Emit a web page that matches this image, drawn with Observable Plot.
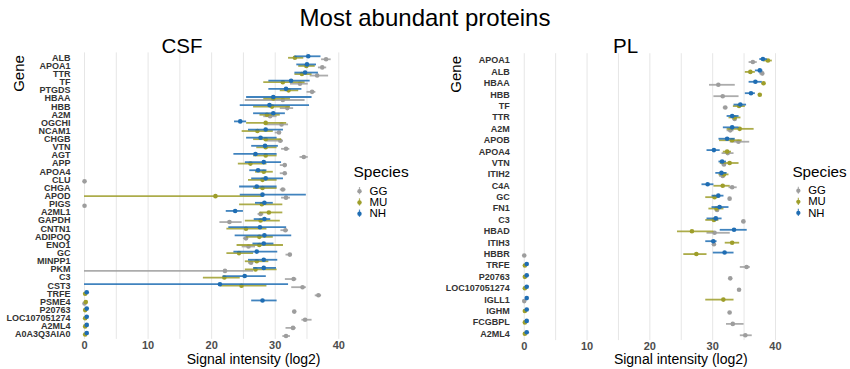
<!DOCTYPE html>
<html>
<head>
<meta charset="utf-8">
<script src="https://cdn.jsdelivr.net/npm/d3@7"></script>
<script src="https://cdn.jsdelivr.net/npm/@observablehq/plot@0.6"></script>
<style>
  body { margin: 0; background: #fff; font-family: "Liberation Sans", Arial, sans-serif; }
  #wrap { position: relative; width: 850px; height: 369px; overflow: hidden; background: #fff; }
  .abs { position: absolute; }
  .ttl { line-height: 1; white-space: nowrap; text-align: center; color: #000; }
</style>
</head>
<body>
<div id="wrap">
  <div id="csf" class="abs" style="left:0;top:0"></div>
  <div id="pl" class="abs" style="left:425px;top:0"></div>
  <div id="legCsf" class="abs" style="left:350px;top:165px"></div>
  <div id="legPl" class="abs" style="left:789px;top:165px"></div>
  <div id="mainTitle" class="abs ttl" style="left:0;width:850px;top:6px;font-size:24px"></div>
  <div id="csfTitle" class="abs ttl" style="left:82px;width:200px;top:35.6px;font-size:20.5px"></div>
  <div id="plTitle" class="abs ttl" style="left:525.5px;width:200px;top:35.9px;font-size:20.5px"></div>
</div>
<script>
// ---------- texts ----------
const mainTitle = "Most abundant proteins";
const panelTitles = ["CSF", "PL"];
const xLabel = "Signal intensity (log2)";
const yLabel = "Gene";
const legendTitle = "Species";

// ---------- scales / ticks ----------
const species = ["GG", "MU", "NH"];
const speciesColors = ["#9d9d9d", "#9e9e2a", "#1f6db3"];
const xTicks = [0, 10, 20, 30, 40];
const xGrid = [0, 5, 10, 15, 20, 25, 30, 35, 40];

// ---------- CSF data: [mean, low, high] ----------
const csfGenes = ["ALB","APOA1","TTR","TF","PTGDS","HBAA","HBB","A2M","OGCHI","NCAM1","CHGB","VTN","AGT","APP","APOA4","CLU","CHGA","APOD","PIGS","A2ML1","GAPDH","CNTN1","ADIPOQ","ENO1","GC","MINPP1","PKM","C3","CST3","TRFE","PSME4","P20763","LOC107051274","A2ML4","A0A3Q3AIA0"];
const csfGG = [
  [38.0,37.3,38.8],[37.4,36.8,38.1],[36.6,35.5,38.4],[33.9,32.4,35.2],[35.8,35.0,36.4],
  [31.2,25.3,34.7],[31.9,30.8,32.9],[29.2,28.2,30.3],[31.0,28.7,32.1],[30.6,30.0,31.0],
  [30.8,28.7,31.3],[31.7,31.0,32.3],[34.5,33.9,35.2],[31.5,30.8,31.9],[31.5,30.8,31.8],
  [0,0,0],[31.2,30.8,31.7],[31.7,31.0,32.4],[0,0,0],[27.7,27.3,28.2],
  [22.8,21.3,24.8],[31.6,30.9,32.1],[25.4,25.0,25.8],[25.8,24.8,26.9],[32.3,31.7,32.7],
  [26.2,25.8,26.6],[22.1,0,26.6],[32.9,31.6,33.4],[34.3,32.6,34.9],[36.8,36.3,37.3],
  [0,0,0],[33.0,32.8,33.2],[34.7,34.2,35.8],[32.8,31.7,33.3],[31.7,31.2,32.4]
];
const csfMU = [
  [33.1,32.1,34.5],[34.9,33.7,36.3],[34.2,33.1,35.8],[31.2,28.2,34.7],[32.1,30.8,33.7],
  [29.7,28.2,32.4],[29.5,26.6,32.4],[28.7,27.6,30.8],[28.5,25.5,31.8],[27.2,24.8,29.7],
  [28.5,26.6,31.0],[28.5,27.1,30.3],[28.5,26.6,30.3],[26.1,24.2,28.7],[28.2,26.9,29.7],
  [28.0,25.8,30.3],[28.0,26.6,30.3],[20.6,0,28.2],[27.9,24.4,31.2],[29.0,27.6,31.2],
  [27.7,25.3,30.8],[25.4,22.4,28.7],[27.5,25.5,29.7],[27.5,24.0,31.3],[24.3,22.4,26.6],
  [27.1,25.3,29.0],[26.9,25.3,30.3],[22.0,18.7,24.5],[24.7,21.4,28.7],[0.1,0.1,0.1],
  [0.2,0.2,0.2],[0.1,0.1,0.1],[0.1,0.1,0.1],[0.1,0.1,0.1],[0.1,0.1,0.1]
];
const csfNH = [
  [35.2,33.1,37.2],[35.0,33.4,36.5],[34.7,33.1,36.8],[32.5,29.0,35.5],[31.7,29.0,34.2],
  [29.7,25.5,35.8],[29.1,24.5,35.4],[29.7,26.6,31.6],[24.5,23.6,25.5],[28.5,25.8,31.3],
  [27.7,25.5,30.3],[28.4,26.3,30.5],[26.9,23.5,30.3],[28.2,25.3,31.0],[27.3,26.0,28.7],
  [28.5,26.3,31.3],[27.1,24.4,30.3],[28.0,24.5,34.9],[28.3,26.9,29.7],[23.7,22.3,25.0],
  [28.3,26.7,29.3],[27.6,22.7,31.8],[28.3,23.7,32.6],[28.2,26.5,29.8],[27.1,23.5,30.4],
  [28.2,25.8,30.4],[28.2,26.6,30.2],[25.2,21.8,28.6],[21.3,0,32.1],[0.35,0.35,0.35],
  [28.0,26.3,30.3],[0.35,0.35,0.35],[0.35,0.35,0.35],[0.35,0.35,0.35],[0.35,0.35,0.35]
];

// ---------- PL data: [mean, low, high] ----------
const plGenes = ["APOA1","ALB","HBAA","HBB","TF","TTR","A2M","APOB","APOA4","VTN","ITIH2","C4A","GC","FN1","C3","HBAD","ITIH3","HBBR","TRFE","P20763","LOC107051274","IGLL1","IGHM","FCGBPL","A2ML4"];
const plGG = [
  [36.4,35.8,37.1],[37.9,37.5,38.2],[30.9,29.5,33.6],[31.6,30.2,34.2],[32.0,31.7,32.4],
  [33.5,33.2,33.8],[32.8,32.3,33.4],[34.1,32.8,35.9],[32.4,31.5,33.4],[31.8,31.5,32.2],
  [31.6,31.1,32.0],[33.1,32.6,33.9],[32.7,32.5,32.9],[30.7,30.4,31.0],[34.9,34.6,35.2],
  [30.3,29.1,32.8],[30.2,30.0,30.4],[0,0,0],[35.4,34.4,36.0],[32.8,32.6,33.0],
  [34.2,34.0,34.4],[0,0,0],[32.7,32.5,32.9],[33.2,32.2,35.0],[35.2,34.4,36.3]
];
const plMU = [
  [38.8,38.1,39.5],[36.0,35.2,36.8],[38.1,37.9,38.3],[37.5,37.3,37.7],[34.2,33.3,35.2],
  [33.5,32.6,34.5],[34.3,32.3,36.6],[33.1,31.1,34.7],[32.3,31.7,33.0],[32.7,31.2,34.2],
  [31.8,31.0,32.6],[31.6,30.2,32.8],[30.3,28.9,31.0],[30.6,29.4,31.8],[30.2,28.9,31.0],
  [26.7,24.4,30.2],[33.1,32.0,34.3],[27.4,25.4,29.1],[0.1,0.1,0.1],[0.1,0.1,0.1],
  [0.1,0.1,0.1],[31.7,28.9,33.4],[0.1,0.1,0.1],[0.1,0.1,0.1],[0.1,0.1,0.1]
];
const plNH = [
  [38.0,37.5,38.7],[37.5,36.8,38.0],[36.8,35.8,37.9],[36.1,35.2,36.8],[34.4,33.4,35.4],
  [33.1,32.3,34.2],[33.1,31.7,34.2],[32.3,31.0,33.6],[30.2,29.1,31.2],[31.5,31.0,32.2],
  [31.4,30.5,32.3],[29.2,28.3,30.2],[30.9,29.9,31.8],[31.1,29.9,32.6],[30.5,29.1,31.5],
  [33.4,31.2,35.5],[30.1,28.9,30.7],[31.9,30.1,33.4],[0.4,0.4,0.4],[0.4,0.4,0.4],
  [0.4,0.4,0.4],[0.4,0.4,0.4],[0.4,0.4,0.4],[0.4,0.4,0.4],[0.4,0.4,0.4]
];

// ---------- helpers ----------
const FONT = "'Liberation Sans', Arial, sans-serif";
const dodge = {GG: 1.5, MU: 0, NH: -1.5};
const colorScale = {domain: species, range: speciesColors};

function rows(genes, vals, sp) {
  return genes.map((g, i) => ({gene: g, species: sp, mean: vals[i][0], lo: vals[i][1], hi: vals[i][2]}));
}

function panel(cfg) {
  const marks = [
    Plot.ruleX(xGrid, {x: d => d, stroke: "#e6e6e6", strokeWidth: 1}),
    Plot.axisY({tickSize: 0, tickPadding: cfg.tickPad, fontSize: 9, fontWeight: "bold", fill: "#333333", label: null}),
    Plot.axisX({ticks: xTicks, tickSize: 0, tickPadding: 2, fontSize: 11, fontWeight: "bold", fill: "#4d4d4d", label: null})
  ];
  cfg.series.forEach((vals, k) => {
    const sp = species[k];
    const data = rows(cfg.genes, vals, sp);
    marks.push(
      Plot.ruleY(data, {y: "gene", x1: "lo", x2: "hi", stroke: "species", strokeWidth: 1.8, strokeOpacity: 0.85, dy: dodge[sp]}),
      Plot.dot(data, {y: "gene", x: "mean", fill: "species", r: 2.3, dy: dodge[sp]})
    );
  });
  marks.push(
    Plot.text([xLabel], {frameAnchor: "bottom", text: d => d, textAnchor: "middle", lineAnchor: "middle", dx: cfg.xlDx, dy: cfg.xlDy, fontSize: 14, fill: "#000"}),
    Plot.text([yLabel], {frameAnchor: "top-left", text: d => d, rotate: -90, textAnchor: "middle", lineAnchor: "middle", dx: cfg.ylDx, dy: cfg.ylDy, fontSize: 15, fill: "#000"})
  );
  return Plot.plot({
    width: cfg.width, height: 369,
    marginLeft: cfg.ml, marginRight: cfg.mr, marginTop: cfg.mt, marginBottom: cfg.mb,
    x: {domain: [-1.2, 41.5]},
    y: {type: "point", domain: cfg.genes, padding: 0.6, round: false},
    color: colorScale,
    style: {fontFamily: FONT, background: "#fff", overflow: "visible"},
    marks
  });
}

function legend() {
  return Plot.plot({
    width: 62, height: 60,
    marginLeft: 9, marginRight: 0, marginTop: 22, marginBottom: 8.1,
    x: {domain: [0, 1], axis: null},
    y: {type: "band", domain: species, paddingInner: 0.35, paddingOuter: 0, axis: null, round: false},
    color: colorScale,
    style: {fontFamily: FONT, background: "transparent", overflow: "visible"},
    marks: [
      Plot.tickX(species, {x: () => 0, y: d => d, stroke: d => d, strokeWidth: 1.2, strokeOpacity: 0.8}),
      Plot.dot(species, {x: () => 0, y: d => d, fill: d => d, r: 2.2}),
      Plot.text(species, {x: () => 0, y: d => d, text: d => d, dx: 10, textAnchor: "start", lineAnchor: "middle", fontSize: 11.5, fill: "#000"}),
      Plot.text([legendTitle], {frameAnchor: "top-left", text: d => d, dx: -6, dy: -15, textAnchor: "start", lineAnchor: "middle", fontSize: 15.5, fill: "#000"})
    ]
  });
}

// ---------- render ----------
document.getElementById("mainTitle").textContent = mainTitle;
document.getElementById("csfTitle").textContent = panelTitles[0];
document.getElementById("plTitle").textContent = panelTitles[1];

document.getElementById("csf").append(panel({
  genes: csfGenes, series: [csfGG, csfMU, csfNH],
  width: 350, ml: 76.4, mr: 2.2, mt: 52.4, mb: 30.1, tickPad: 6.4,
  xlDx: 41, xlDy: 20, ylDx: -57.4, ylDy: 20.6
}));
document.getElementById("pl").append(panel({
  genes: plGenes, series: [plGG, plMU, plNH],
  width: 365, ml: 91.2, mr: 5.6, mt: 53.2, mb: 28.9, tickPad: 6.9,
  xlDx: 30, xlDy: 19, ylDx: -60.2, ylDy: 20.6
}));
document.getElementById("legCsf").append(legend());
document.getElementById("legPl").append(legend());
</script>
</body>
</html>
